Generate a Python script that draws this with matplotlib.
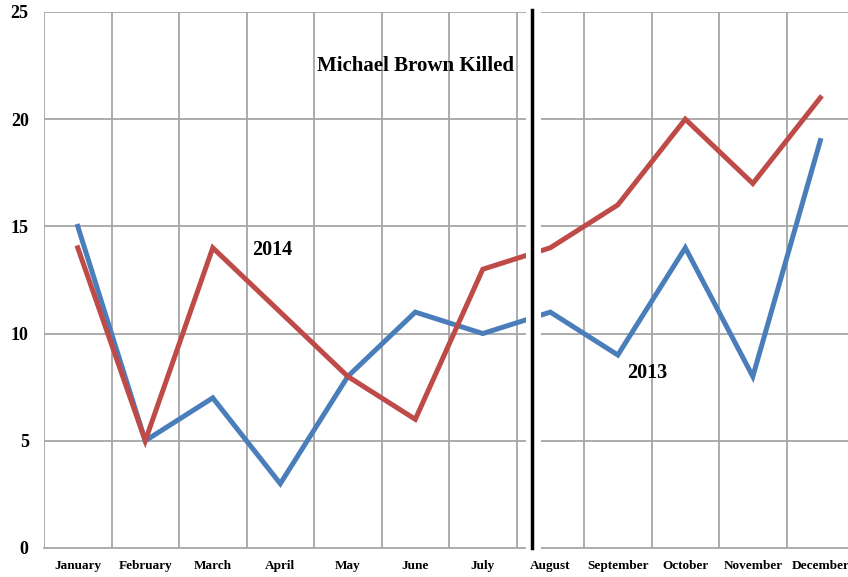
import matplotlib
matplotlib.use("Agg")
import matplotlib.pyplot as plt
from matplotlib.patches import Rectangle

months = ["January", "February", "March", "April", "May", "June", "July",
          "August", "September", "October", "November", "December"]
y2013 = [15, 5, 7, 3, 8, 11, 10, 11, 9, 14, 8, 19]
y2014 = [14, 5, 14, 11, 8, 6, 13, 14, 16, 20, 17, 21]
yticks = [0, 5, 10, 15, 20, 25]
event_x = 6.73  # Michael Brown killed (early August)

serif = ["Liberation Serif", "DejaVu Serif"]
blue = "#4a7ebb"
red = "#be4b48"
grid = "#a6a6a6"

fig = plt.figure(figsize=(8.48, 5.77), dpi=100)
ax = fig.add_axes([0.0519, 0.0503, 0.9481, 0.929])

x = range(len(months))
ax.plot(x, y2013, color=blue, lw=3.6, solid_joinstyle="miter", zorder=3)
ax.plot(x, y2014, color=red, lw=3.6, solid_joinstyle="miter", zorder=3)

ax.set_xlim(-0.5, 11.41)
ax.set_ylim(0, 25)

# grid: horizontal at ticks, vertical at category boundaries
for v in yticks[1:]:
    ax.axhline(v, color=grid, lw=1.3, zorder=1)
for b in range(len(months)):
    ax.axvline(b - 0.5, color=grid, lw=1.3, zorder=1)

for s in ["top", "right", "left"]:
    ax.spines[s].set_visible(False)
ax.spines["bottom"].set_color(grid)
ax.spines["bottom"].set_linewidth(1.3)

ax.set_yticks(yticks)
ax.set_yticklabels([str(v) for v in yticks], fontfamily=serif,
                   fontweight="bold", fontsize=13)
ax.set_xticks(list(x))
ax.set_xticklabels(months, fontfamily=serif, fontweight="bold", fontsize=9.5)
ax.tick_params(length=0)
ax.tick_params(axis="y", pad=11)
ax.tick_params(axis="x", pad=9)

# white gap where the two pieces meet, with the event line
ax.add_patch(Rectangle((6.64, -0.4), 0.22, 26, facecolor="white",
                       edgecolor="none", zorder=5, clip_on=False))
ax.plot([event_x, event_x], [0, 25.1], color="black", lw=2.5, zorder=6,
        clip_on=False)

ax.text(5.01, 22.5, "Michael Brown Killed", fontfamily=serif,
        fontweight="bold", fontsize=15, ha="center", va="center", zorder=7)
ax.text(2.88, 13.9, "2014", fontfamily=serif, fontweight="bold",
        fontsize=14.5, ha="center", va="center", zorder=7)
ax.text(8.43, 8.15, "2013", fontfamily=serif, fontweight="bold",
        fontsize=14.5, ha="center", va="center", zorder=7)

fig.savefig("out.png", dpi=100)
